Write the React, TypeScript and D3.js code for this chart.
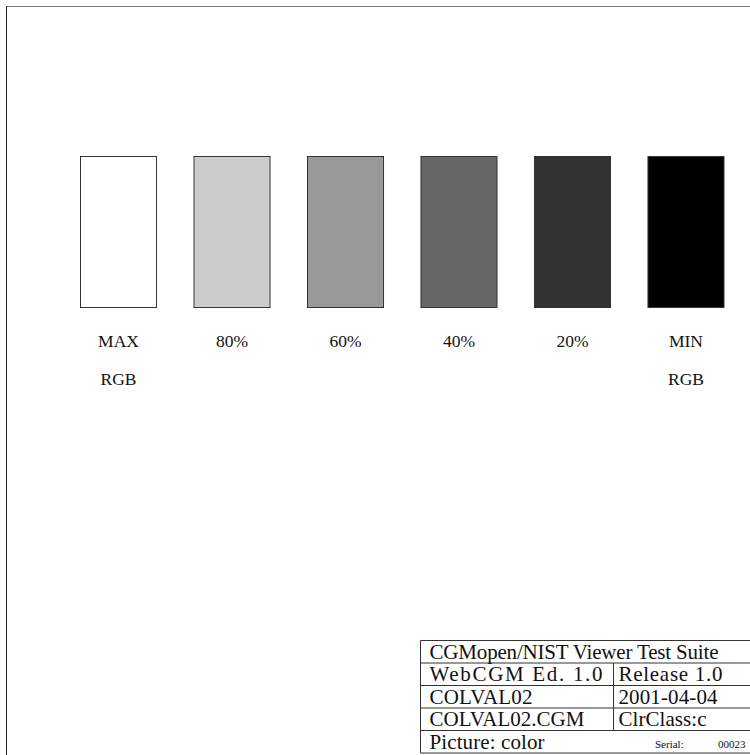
import React from "react";
import * as d3 from "d3";

const categories = ["MAX", "80%", "60%", "40%", "20%", "MIN"];
const levels = [100, 80, 60, 40, 20, 0];
const subLabels = ["RGB", "", "", "", "", "RGB"];

const titleRow = "CGMopen/NIST Viewer Test Suite";
const leftCells = ["WebCGM Ed. 1.0", "COLVAL02", "COLVAL02.CGM"];
const rightCells = ["Release 1.0", "2001-04-04", "ClrClass:c"];
const pictureLabel = "Picture: color";
const serialLabel = "Serial:";
const serialValue = "00023";

const W = 750;
const H = 755;
const FONT = "'Liberation Serif', 'Times New Roman', serif";

export default function App() {
  const x = d3
    .scaleBand<string>()
    .domain(categories)
    .range([80.5, 724])
    .paddingInner(0.33)
    .paddingOuter(0);
  const y = d3.scaleLinear().domain([0, 1]).range([307.5, 156.5]);
  const gray = d3.scaleLinear<string>().domain([0, 100]).range(["#000000", "#ffffff"]);

  // table geometry
  const tLeft = 420.5;
  const tRight = 752;
  const rowY = d3.range(6).map((i) => 640.5 + i * 22.5);
  const divX = 613.5;
  const leftWidths = [173, 103, 155];
  const rightWidths = [104, 99, 88];

  return (
    <svg
      width={W}
      height={H}
      style={{ position: "absolute", left: 0, top: 0, background: "#fff" }}
      fontFamily={FONT}
    >
      {/* frame */}
      <line x1={6} x2={W} y1={6.5} y2={6.5} stroke="#777" strokeWidth={1} />
      <line x1={6.5} x2={6.5} y1={6} y2={H} stroke="#222" strokeWidth={1} />

      {/* bars */}
      {categories.map((c, i) => (
        <rect
          key={c}
          x={x(c)}
          y={y(1)}
          width={x.bandwidth()}
          height={y(0) - y(1)}
          fill={gray(levels[i])}
          stroke="#333"
          strokeWidth={1}
        />
      ))}

      {/* labels */}
      {categories.map((c) => (
        <text
          key={"l" + c}
          x={(x(c) as number) + x.bandwidth() / 2}
          y={346.5}
          textAnchor="middle"
          fontSize={17.5}
          fill="#111"
        >
          {c}
        </text>
      ))}
      {categories.map((c, i) =>
        subLabels[i] ? (
          <text
            key={"s" + c}
            x={(x(c) as number) + x.bandwidth() / 2}
            y={385}
            textAnchor="middle"
            fontSize={17.5}
            fill="#111"
          >
            {subLabels[i]}
          </text>
        ) : null
      )}

      {/* title table */}
      <g stroke="#333" strokeWidth={1}>
        <line x1={tLeft} x2={tLeft} y1={rowY[0]} y2={rowY[5]} />
        {rowY.map((ry, i) => (
          <line key={"h" + i} x1={tLeft} x2={tRight} y1={ry} y2={ry} />
        ))}
        <line x1={divX} x2={divX} y1={rowY[1]} y2={rowY[4]} />
      </g>
      <g fontSize={21} fill="#111">
        <text x={429.5} y={658.5} textLength={289} lengthAdjust="spacing">
          {titleRow}
        </text>
        {leftCells.map((t, i) => (
          <text
            key={"lc" + i}
            x={429.5}
            y={681 + i * 22.5}
            textLength={leftWidths[i]}
            lengthAdjust="spacing"
          >
            {t}
          </text>
        ))}
        {rightCells.map((t, i) => (
          <text
            key={"rc" + i}
            x={618.5}
            y={681 + i * 22.5}
            textLength={rightWidths[i]}
            lengthAdjust="spacing"
          >
            {t}
          </text>
        ))}
        <text x={429.5} y={748.5} textLength={115} lengthAdjust="spacing">
          {pictureLabel}
        </text>
      </g>
      <text x={655} y={748} fontSize={11} fill="#111">
        {serialLabel}
      </text>
      <text x={718} y={748} fontSize={11} fill="#111">
        {serialValue}
      </text>
    </svg>
  );
}
